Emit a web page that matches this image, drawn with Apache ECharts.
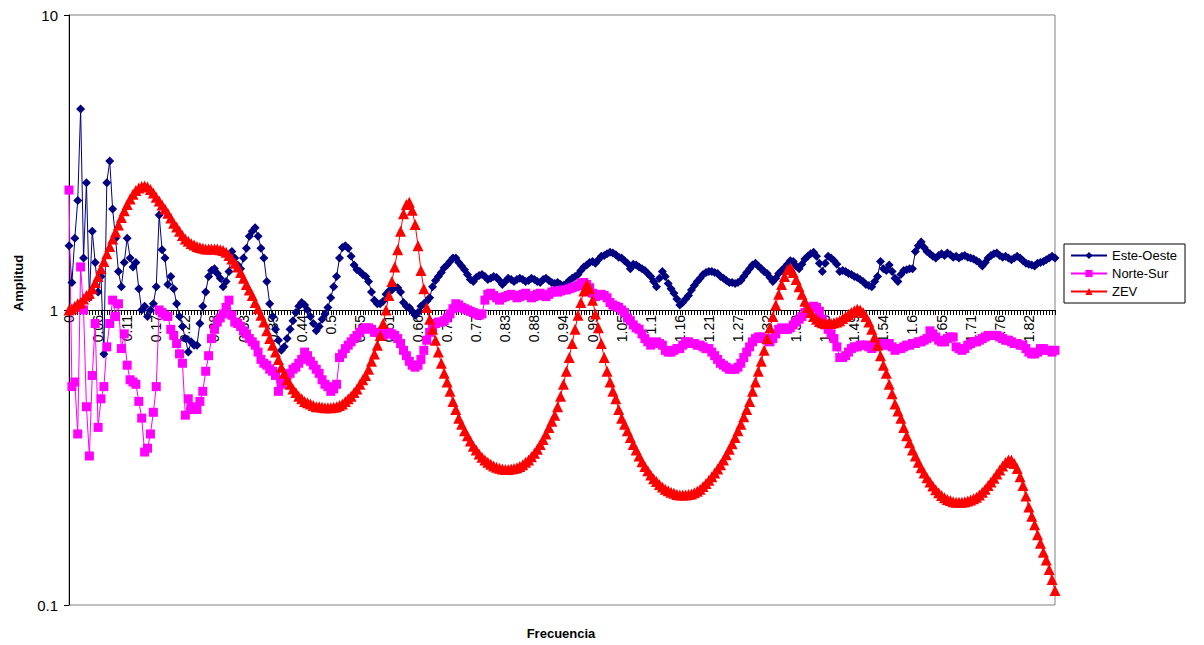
<!DOCTYPE html>
<html>
<head>
<meta charset="utf-8">
<script src="https://cdn.jsdelivr.net/npm/echarts@6/dist/echarts.min.js"></script>
<style>
  html, body { margin: 0; padding: 0; background: #ffffff; }
  #chart { width: 1204px; height: 645px; }
</style>
</head>
<body>
<div id="chart"></div>
<script>
// Frequency axis labels shown every 10 samples (sample step 0.0055 Hz)
const tickLabels = ['0', '0.06', '0.11', '0.17', '0.22', '0.28', '0.33', '0.39', '0.44', '0.5',
  '0.55', '0.61', '0.66', '0.72', '0.77', '0.83', '0.88', '0.94', '0.99', '1.05',
  '1.1', '1.16', '1.21', '1.27', '1.32', '1.38', '1.43', '1.49', '1.54', '1.6',
  '1.65', '1.71', '1.76', '1.82'];
const yTickLabels = ['0.1', '1', '10'];

// Spectral ratio, East-West component
const esteOeste = [
  1.65, 1.24, 1.75, 2.35, 4.8, 1.5, 2.7, 1.1, 1.85, 1.45,
  1.15, 1.3, 0.71, 2.7, 3.2, 2.2, 1.75, 1.35, 1.2, 1.45,
  1.75, 1.5, 1.4, 1.45, 1.18, 1.0, 1.03, 0.95, 1.0, 1.05,
  1.2, 2.1, 1.6, 1.5, 1.22, 1.3, 1.18, 1.05, 0.95, 0.88,
  0.8, 0.72, 0.78, 0.76, 0.76, 0.9, 1.03, 1.15, 1.3, 1.36,
  1.38, 1.33, 1.28, 1.2, 1.25, 1.35, 1.58, 1.5, 1.42, 1.38,
  1.5, 1.62, 1.78, 1.85, 1.9, 1.78, 1.62, 1.5, 1.25, 1.05,
  0.95, 0.86, 0.79, 0.73, 0.75, 0.8, 0.86, 0.92, 0.98, 1.03,
  1.06, 1.04, 1.0, 0.95, 0.9, 0.85, 0.88, 0.93, 0.97, 1.02,
  1.1, 1.2, 1.3, 1.5, 1.63, 1.65, 1.62, 1.52, 1.42, 1.37,
  1.35, 1.32, 1.3, 1.25, 1.15, 1.08, 1.05, 1.05, 1.07, 1.13,
  1.16, 1.17, 1.2, 1.19, 1.15, 1.06, 1.03, 1.02, 0.99, 0.96,
  0.98, 1.03, 1.05, 1.07, 1.1, 1.2, 1.26, 1.3, 1.34, 1.39,
  1.42, 1.46, 1.5, 1.5, 1.45, 1.41, 1.37, 1.32, 1.27, 1.25,
  1.29, 1.31, 1.32, 1.3, 1.27, 1.28, 1.3, 1.29, 1.26, 1.22,
  1.25, 1.28, 1.27, 1.25, 1.27, 1.28, 1.27, 1.25, 1.26, 1.28,
  1.27, 1.25, 1.24, 1.27, 1.28, 1.26, 1.24, 1.23, 1.24, 1.22,
  1.21, 1.23, 1.26, 1.28, 1.3, 1.32, 1.36, 1.4, 1.42, 1.45,
  1.46, 1.44, 1.48, 1.52, 1.53, 1.55, 1.57, 1.56, 1.54, 1.51,
  1.5, 1.47, 1.44, 1.38, 1.43, 1.42, 1.4, 1.38, 1.36, 1.33,
  1.3, 1.25, 1.2, 1.28, 1.35, 1.3, 1.23, 1.18, 1.14, 1.09,
  1.04, 1.06, 1.09, 1.12, 1.17, 1.21, 1.25, 1.28, 1.32, 1.34,
  1.35, 1.35, 1.34, 1.33, 1.3, 1.28, 1.26, 1.24, 1.24, 1.23,
  1.24, 1.26, 1.3, 1.34, 1.38, 1.42, 1.44, 1.41, 1.38, 1.35,
  1.33, 1.29, 1.25, 1.28, 1.33, 1.36, 1.39, 1.43, 1.47, 1.46,
  1.41, 1.38, 1.43, 1.49, 1.52, 1.55, 1.57, 1.52, 1.44, 1.35,
  1.44, 1.52, 1.5, 1.47, 1.43, 1.35, 1.36, 1.35, 1.33, 1.32,
  1.3, 1.29, 1.27, 1.25, 1.22, 1.21, 1.2, 1.25, 1.3, 1.46,
  1.38, 1.36, 1.42, 1.35, 1.28, 1.25, 1.32, 1.36, 1.37, 1.38,
  1.38, 1.58, 1.65, 1.7, 1.63, 1.58, 1.55, 1.52, 1.5, 1.53,
  1.55, 1.53, 1.56, 1.54, 1.51, 1.52, 1.5, 1.52, 1.53, 1.51,
  1.5, 1.49, 1.47, 1.45, 1.41, 1.45, 1.5, 1.53, 1.55, 1.56,
  1.53, 1.51, 1.52, 1.5, 1.48, 1.5, 1.52, 1.5, 1.47, 1.44,
  1.43, 1.42, 1.41, 1.44, 1.45, 1.46, 1.48, 1.5, 1.52, 1.5
];

// Spectral ratio, North-South component
const norteSur = [
  2.55, 0.55, 0.57, 0.38, 1.4, 1.0, 0.47, 0.32, 0.6, 0.9,
  0.4, 0.5, 0.55, 0.75, 0.9, 1.08, 0.95, 1.05, 0.74, 0.83,
  0.65, 0.58, 0.57, 0.56, 0.49, 0.43, 0.33, 0.34, 0.38, 0.45,
  0.55, 1.0, 0.98, 0.96, 0.95, 0.86, 0.82, 0.77, 0.71, 0.66,
  0.44, 0.5, 0.47, 0.46, 0.46, 0.49, 0.53, 0.62, 0.7, 0.8,
  0.86, 0.91, 0.94, 0.97, 1.02, 1.08, 0.96, 0.91, 0.9, 0.88,
  0.85, 0.83, 0.8, 0.78, 0.76, 0.72, 0.68, 0.66, 0.65, 0.63,
  0.62, 0.6, 0.53, 0.56, 0.58, 0.6, 0.61, 0.63, 0.64, 0.66,
  0.68, 0.72, 0.7, 0.67, 0.65, 0.63, 0.61, 0.58, 0.56, 0.55,
  0.53, 0.54, 0.56, 0.69, 0.71, 0.74, 0.76, 0.78, 0.8, 0.82,
  0.84, 0.86, 0.87, 0.87, 0.86, 0.84, 0.84, 0.83, 0.82, 0.83,
  0.84, 0.83, 0.82, 0.8, 0.77, 0.73, 0.7, 0.67, 0.65, 0.64,
  0.65, 0.68, 0.73, 0.79, 0.84, 0.87, 0.9, 0.91, 0.91, 0.92,
  0.94, 0.97, 1.01, 1.05, 1.04, 1.02, 1.01, 1.0, 0.99, 0.98,
  0.97, 0.96, 0.97, 1.08, 1.13, 1.14, 1.12, 1.1, 1.08, 1.1,
  1.11, 1.12, 1.13, 1.12, 1.1, 1.11, 1.13, 1.14, 1.12, 1.1,
  1.11, 1.13, 1.14, 1.12, 1.11, 1.13, 1.15, 1.16, 1.15, 1.16,
  1.17, 1.17, 1.18, 1.19, 1.2, 1.21, 1.23, 1.24, 1.22, 1.19,
  1.14, 1.11, 1.12, 1.13, 1.12, 1.1, 1.06, 1.04, 1.03, 1.02,
  1.0, 0.98, 0.94, 0.92, 0.89, 0.87, 0.86, 0.83, 0.8, 0.78,
  0.76, 0.77, 0.78, 0.77, 0.76, 0.73, 0.72, 0.72, 0.73, 0.74,
  0.74, 0.76, 0.78, 0.78, 0.77, 0.77, 0.76, 0.76, 0.75, 0.74,
  0.74, 0.72, 0.7, 0.68, 0.66, 0.65, 0.64, 0.63, 0.63, 0.63,
  0.64, 0.66, 0.69, 0.72, 0.75, 0.78, 0.8, 0.81, 0.81, 0.8,
  0.79, 0.78, 0.8, 0.83, 0.86, 0.87, 0.86, 0.86, 0.87, 0.89,
  0.91, 0.93, 0.95, 0.98, 1.0, 1.02, 1.03, 1.02, 0.99, 0.93,
  0.89, 0.86, 0.83, 0.8, 0.75, 0.69, 0.69, 0.7, 0.72, 0.74,
  0.75, 0.75, 0.76, 0.76, 0.76, 0.75, 0.74, 0.75, 0.77, 0.77,
  0.76, 0.76, 0.77, 0.75, 0.73, 0.74, 0.74, 0.75, 0.76, 0.76,
  0.77, 0.77, 0.78, 0.78, 0.79, 0.8, 0.85, 0.83, 0.81, 0.79,
  0.78, 0.78, 0.8, 0.81, 0.81, 0.75, 0.74, 0.73, 0.74, 0.76,
  0.77, 0.78, 0.78, 0.79, 0.8, 0.81, 0.82, 0.82, 0.82, 0.82,
  0.81, 0.8, 0.79, 0.79, 0.78, 0.77, 0.77, 0.76, 0.76, 0.74,
  0.72, 0.71, 0.71, 0.72, 0.74, 0.74, 0.73, 0.73, 0.72, 0.73
];

// Theoretical amplification (ZEV)
const zev = [
  1.00, 1.01, 1.03, 1.05, 1.06, 1.09, 1.12, 1.14, 1.18, 1.24,
  1.30, 1.38, 1.46, 1.55, 1.64, 1.74, 1.84, 1.94, 2.06, 2.17,
  2.28, 2.38, 2.47, 2.54, 2.59, 2.62, 2.63, 2.61, 2.56, 2.49,
  2.41, 2.34, 2.27, 2.20, 2.13, 2.05, 1.97, 1.91, 1.85, 1.79,
  1.74, 1.71, 1.68, 1.66, 1.64, 1.63, 1.62, 1.61, 1.61, 1.61,
  1.61, 1.61, 1.60, 1.59, 1.57, 1.53, 1.49, 1.44, 1.40, 1.34,
  1.28, 1.22, 1.17, 1.12, 1.06, 1.01, 0.96, 0.91, 0.85, 0.80,
  0.76, 0.72, 0.68, 0.64, 0.61, 0.58, 0.56, 0.54, 0.525, 0.51,
  0.50, 0.49, 0.485, 0.48, 0.475, 0.47, 0.47, 0.468, 0.466, 0.466,
  0.466, 0.468, 0.47, 0.475, 0.48, 0.49, 0.50, 0.51, 0.525, 0.54,
  0.56, 0.58, 0.60, 0.63, 0.67, 0.71, 0.76, 0.82, 0.90, 1.00,
  1.12, 1.25, 1.40, 1.60, 1.85, 2.12, 2.28, 2.32, 2.18, 1.95,
  1.65, 1.36, 1.18, 1.02, 0.93, 0.86, 0.79, 0.72, 0.66, 0.61,
  0.57, 0.53, 0.49, 0.46, 0.43, 0.41, 0.39, 0.375, 0.36, 0.345,
  0.335, 0.325, 0.317, 0.31, 0.305, 0.30, 0.296, 0.293, 0.291, 0.289,
  0.288, 0.288, 0.289, 0.29, 0.292, 0.295, 0.299, 0.305, 0.31, 0.318,
  0.327, 0.337, 0.35, 0.364, 0.38, 0.40, 0.42, 0.44, 0.47, 0.51,
  0.56, 0.62, 0.69, 0.77, 0.86, 0.96, 1.06, 1.16, 1.22, 1.18,
  1.08, 0.97, 0.87, 0.77, 0.69, 0.62, 0.57, 0.53, 0.50, 0.46,
  0.43, 0.41, 0.39, 0.37, 0.35, 0.335, 0.32, 0.306, 0.295, 0.285,
  0.276, 0.268, 0.262, 0.256, 0.251, 0.247, 0.244, 0.241, 0.239, 0.237,
  0.236, 0.236, 0.236, 0.237, 0.238, 0.24, 0.243, 0.247, 0.252, 0.258,
  0.265, 0.272, 0.28, 0.289, 0.299, 0.31, 0.323, 0.337, 0.352, 0.37,
  0.39, 0.41, 0.435, 0.46, 0.49, 0.53, 0.57, 0.62, 0.67, 0.73,
  0.80, 0.87, 0.95, 1.04, 1.13, 1.22, 1.30, 1.37, 1.39, 1.34,
  1.27, 1.20, 1.13, 1.07, 1.02, 0.98, 0.95, 0.93, 0.915, 0.905,
  0.90, 0.90, 0.90, 0.905, 0.91, 0.92, 0.935, 0.95, 0.965, 0.98,
  0.995, 1.005, 1.0, 0.98, 0.95, 0.91, 0.86, 0.81, 0.76, 0.70,
  0.65, 0.61, 0.56, 0.52, 0.48, 0.455, 0.43, 0.40, 0.375, 0.355,
  0.335, 0.32, 0.305, 0.292, 0.28, 0.27, 0.261, 0.253, 0.246, 0.24,
  0.235, 0.231, 0.228, 0.226, 0.224, 0.223, 0.223, 0.223, 0.224, 0.225,
  0.227, 0.229, 0.232, 0.236, 0.241, 0.247, 0.254, 0.261, 0.269, 0.278,
  0.287, 0.296, 0.304, 0.31, 0.31, 0.302, 0.29, 0.272, 0.254, 0.234,
  0.215, 0.2, 0.187, 0.173, 0.162, 0.151, 0.142, 0.132, 0.122, 0.112
];

// Frequency of each sample (Hz), 0.0055 Hz apart
const frequencies = esteOeste.map((_, i) => (i * 55 / 10000).toFixed(4));

const FONT = '"Liberation Sans", Arial, sans-serif';
const CHART_W = 1204, CHART_H = 645;
const GRID = { left: 69, top: 15, right: 149, bottom: 40 };
const Y_MIN = 0.1, Y_MAX = 10, X_CROSS = 1;
const gridH = CHART_H - GRID.top - GRID.bottom;
// The category axis crosses the log axis at amplitude 1
const crossOffset = -gridH * (Math.log10(X_CROSS) - Math.log10(Y_MIN)) /
  (Math.log10(Y_MAX) - Math.log10(Y_MIN));

const chart = echarts.init(document.getElementById('chart'), null, {
  renderer: 'svg', width: CHART_W, height: CHART_H
});

chart.setOption({
  animation: false,
  backgroundColor: '#ffffff',
  textStyle: { fontFamily: FONT },
  grid: {
    left: GRID.left, top: GRID.top, right: GRID.right, bottom: GRID.bottom,
    show: true, borderColor: '#808080', borderWidth: 1, backgroundColor: 'transparent'
  },
  legend: {
    orient: 'vertical',
    left: 1064, top: 244,
    padding: [5, 8, 5, 6],
    itemGap: 5,
    itemWidth: 36, itemHeight: 9,
    borderColor: '#000000', borderWidth: 1,
    backgroundColor: '#ffffff',
    textStyle: { fontFamily: FONT, fontSize: 13, color: '#000000' },
    data: ['Este-Oeste', 'Norte-Sur', 'ZEV']
  },
  graphic: [
    {
      type: 'text',
      x: 561, y: 633,
      style: {
        text: 'Frecuencia', font: 'bold 13px ' + FONT, fill: '#000000',
        align: 'center', verticalAlign: 'middle'
      }
    },
    {
      type: 'text',
      x: 18, y: 283,
      rotation: Math.PI / 2,
      style: {
        text: 'Amplitud', font: 'bold 13px ' + FONT, fill: '#000000',
        align: 'center', verticalAlign: 'middle'
      }
    }
  ],
  xAxis: {
    type: 'category',
    data: frequencies,
    boundaryGap: false,
    position: 'bottom',
    offset: crossOffset,
    axisLine: { show: true, lineStyle: { color: '#000000', width: 1 } },
    axisTick: { show: true, interval: 0, length: 5, lineStyle: { color: '#000000', width: 1 } },
    axisLabel: {
      interval: (idx) => idx % 10 === 0,
      formatter: (val, idx) => tickLabels[idx / 10],
      rotate: 90,
      margin: 5,
      fontFamily: FONT, fontSize: 14, color: '#000000'
    },
    splitLine: { show: false }
  },
  yAxis: {
    type: 'log',
    logBase: 10,
    min: Y_MIN, max: Y_MAX,
    axisLine: { show: true, lineStyle: { color: '#000000', width: 1 } },
    axisTick: { show: true, length: 5, lineStyle: { color: '#000000' } },
    axisLabel: {
      margin: 11,
      formatter: (v) => yTickLabels[Math.round(Math.log10(v) - Math.log10(Y_MIN))],
      fontFamily: FONT, fontSize: 15, color: '#000000'
    },
    splitLine: { show: false },
    minorTick: { show: false }
  },
  series: [
    {
      name: 'Este-Oeste', type: 'line', data: esteOeste,
      symbol: 'diamond', symbolSize: 9, showAllSymbol: true,
      itemStyle: { color: '#000080' },
      lineStyle: { color: '#000080', width: 1 }
    },
    {
      name: 'Norte-Sur', type: 'line', data: norteSur,
      symbol: 'rect', symbolSize: 9, showAllSymbol: true,
      itemStyle: { color: '#ff00ff' },
      lineStyle: { color: '#ff00ff', width: 1 }
    },
    {
      name: 'ZEV', type: 'line', data: zev,
      symbol: 'triangle', symbolSize: 11, showAllSymbol: true,
      itemStyle: { color: '#ff0000' },
      lineStyle: { color: '#ff0000', width: 1 }
    }
  ]
});
</script>
</body>
</html>
